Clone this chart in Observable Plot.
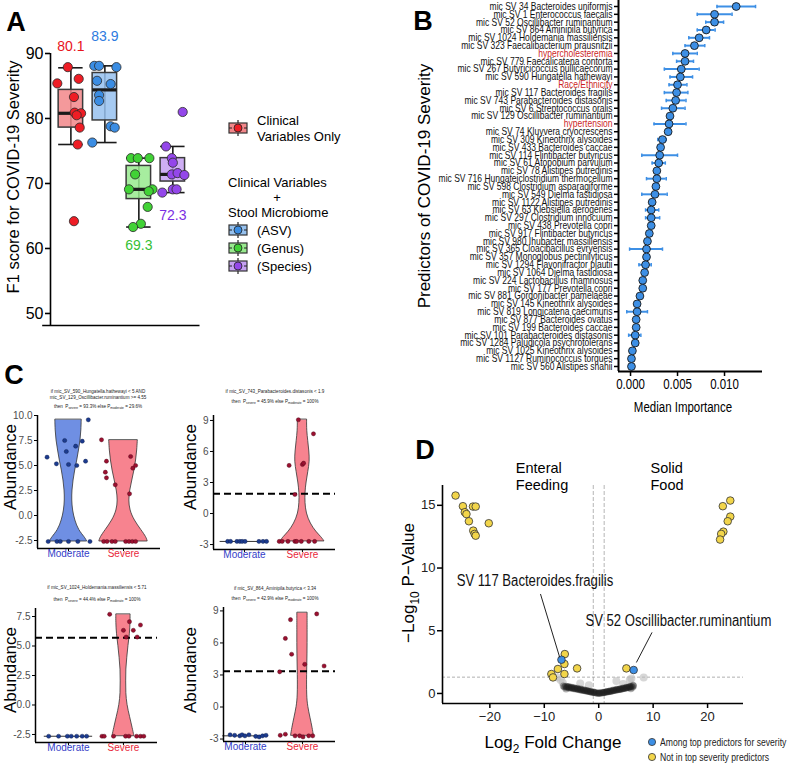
<!DOCTYPE html>
<html><head><meta charset="utf-8">
<script src="https://cdn.jsdelivr.net/npm/d3@7"></script>
<script src="https://cdn.jsdelivr.net/npm/@observablehq/plot@0.6"></script>
<style>
body{margin:0;background:#fff;}
#root{position:relative;width:796px;height:764px;overflow:hidden;background:#fff;font-family:'Liberation Sans',Arial,Helvetica,sans-serif;color:#000;}
.t{position:absolute;white-space:nowrap;line-height:1;}
.sb{font-size:70%;vertical-align:-0.35em;}
</style></head><body><div id="root"></div>
<script>
// ---------------- DATA ----------------
// Panel A: F1 scores
const groupNames = ["Clinical Variables Only", "ASV", "Genus", "Species"];
const boxQ1 = [78.6, 79.7, 67.6, 70.3];
const boxMedian = [80.8, 84.4, 69.1, 71.4];
const boxQ3 = [84.4, 87.0, 72.7, 73.9];
const whiskerLo = [76.0, 76.3, 63.3, 68.6];
const whiskerHi = [87.8, 88.1, 73.9, 75.7];
const meanLabels = ["80.1", "83.9", "69.3", "72.3"];
const meanLabelY = [91.0, 92.6, 60.4, 65.1];
const clinicalF1 = [87.9, 85.4, 86.1, 83.3, 80.9, 80.8, 80.5, 78.6, 76.0, 64.2];
const clinicalJitter = [-0.09, -0.4, 0.23, 0.09, 0.11, 0.3, 0.17, 0.26, 0.2, 0.09];
const asvF1 = [88.1, 88.1, 87.9, 85.8, 85.3, 83.6, 82.7, 78.8, 78.6, 76.3];
const asvJitter = [-0.31, -0.17, 0.34, -0.23, 0.17, -0.17, -0.17, 0.17, 0.29, -0.37];
const genusF1 = [73.9, 73.9, 73.9, 71.4, 69.1, 69.1, 68.8, 66.4, 63.8, 63.3];
const genusJitter = [-0.23, -0.03, 0.31, -0.11, -0.29, 0.4, 0.29, 0.26, 0.06, -0.17];
const speciesF1 = [81.0, 75.7, 73.9, 73.2, 71.4, 71.6, 71.3, 69.1, 69.1, 68.6];
const speciesJitter = [0.29, -0.2, -0.03, 0.0, -0.03, 0.14, 0.34, 0.0, 0.11, -0.31];

// Panel B: predictors
const predictorLabels = ["mic SV 34 Bacteroides uniformis","mic SV 1 Enterococcus faecalis","mic SV 52 Oscillibacter ruminantium","mic SV 864 Aminipila butyrica","mic SV 1024 Holdemania massiliensis","mic SV 323 Faecalibacterium prausnitzii","hypercholesteremia","mic SV 779 Faecalicatena contorta","mic SV 267 Butyricicoccus pullicaecorum","mic SV 590 Hungatella hathewayi","Race/Ethnicity","mic SV 117 Bacteroides fragilis","mic SV 743 Parabacteroides distasonis","mic SV 6 Streptococcus oralis","mic SV 129 Oscillibacter ruminantium","hypertension","mic SV 74 Kluyvera cryocrescens","mic SV 309 Kineothrix alysoides","mic SV 433 Bacteroides caccae","mic SV 114 Flintibacter butyricus","mic SV 61 Atopobium parvulum","mic SV 78 Alistipes putredinis","mic SV 716 Hungateiclostridium thermocellum","mic SV 598 Clostridium asparagiforme","mic SV 549 Dielma fastidiosa","mic SV 1122 Alistipes putredinis","mic SV 63 Klebsiella aerogenes","mic SV 297 Clostridium innocuum","mic SV 438 Prevotella copri","mic SV 917 Flintibacter butyricus","mic SV 980 Ihubacter massiliensis","mic SV 365 Cloacibacillus evryensis","mic SV 357 Monoglobus pectinilyticus","mic SV 1294 Flavonifractor plautii","mic SV 1064 Dielma fastidiosa","mic SV 224 Lactobacillus rhamnosus","mic SV 177 Prevotella copri","mic SV 881 Gordonibacter pamelaeae","mic SV 145 Kineothrix alysoides","mic SV 819 Longicatena caecimuris","mic SV 877 Bacteroides ovatus","mic SV 199 Bacteroides caccae","mic SV 101 Parabacteroides distasonis","mic SV 1284 Paludicola psychrotolerans","mic SV 1025 Kineothrix alysoides","mic SV 1127 Ruminococcus torques","mic SV 560 Alistipes shahii"];
const clinicalPredictors = ["hypercholesteremia", "Race/Ethnicity", "hypertension"];
const medianImportance = [0.01124,0.00894,0.00894,0.00805,0.0073,0.0068,0.0058,0.0058,0.0054,0.0053,0.0050,0.0049,0.0048,0.0045,0.0042,0.0041,0.0040,0.0034,0.0032,0.0031,0.0030,0.0028,0.0028,0.0027,0.0026,0.0023,0.0022,0.0022,0.0022,0.0020,0.0018,0.0017,0.0017,0.0016,0.0015,0.0013,0.0013,0.0010,0.0007,0.0007,0.0006,0.0006,0.0005,0.0005,0.0002,0.0001,0.0001];
const importanceLo = [0.0092,0.0071,0.0080,0.0071,0.0062,0.0058,0.0045,0.0049,0.0036,0.0042,0.0041,0.0036,0.0038,0.0033,null,0.0025,null,0.0029,null,0.0012,0.0023,null,0.0017,null,0.0012,null,0.0016,0.0016,null,null,null,-0.0001,null,0.0009,null,null,null,null,null,-0.0004,null,null,-0.0002,null,null,null,null];
const importanceHi = [0.0133,0.0108,0.0099,0.0090,0.0084,0.0079,0.0071,0.0067,0.0073,0.0066,0.0060,0.0061,0.0059,0.0058,null,0.0059,null,0.0038,null,0.0050,0.0037,null,0.0038,null,0.0039,null,0.0030,0.0031,null,null,null,0.0034,null,0.0022,null,null,null,null,null,0.0018,null,null,0.0011,null,null,null,null];
const importanceTicks = [0, 0.005, 0.010];

// Panel C: violins (outline = abundance level, half width in category units)
const c1ModOutlineY = [9.55, 8.5, 7.5, 6.5, 5.5, 4.5, 3.5, 2.5, 1.5, 0.5, -0.5, -1.5, -2.2, -2.6];
const c1ModOutlineW = [0.24, 0.235, 0.22, 0.19, 0.16, 0.12, 0.09, 0.07, 0.065, 0.08, 0.12, 0.19, 0.30, 0.34];
const c1SevOutlineY = [7.5, 6.5, 5.5, 4.5, 3.5, 2.5, 1.5, 0.5, -0.5, -1.5, -2.2, -2.6];
const c1SevOutlineW = [0.26, 0.25, 0.23, 0.2, 0.16, 0.12, 0.1, 0.12, 0.2, 0.33, 0.42, 0.44];
const c1ModPtsX = [0.61,0.78,0.93,0.96,1.0,1.13,1.15,1.25,1.31,1.36,0.63,0.79,0.85,1.0,1.17,1.39];
const c1ModPtsY = [5.83,5.17,7.5,6.4,5.1,6.93,5.0,7.43,5.43,9.57,-2.6,-2.6,-2.6,-2.6,-2.6,-2.6];
const c1SevPtsX = [1.6,1.69,1.67,1.69,1.85,2.13,2.17,2.22,2.11,1.64,1.70,1.79,1.85,2.04,2.10,2.16,2.22];
const c1SevPtsY = [7.57,5.43,4.33,3.77,3.07,5.9,4.73,5.0,2.17,-2.6,-2.6,-2.6,-2.6,-2.6,-2.6,-2.6,-2.6];

const c2ModLine = {y: -2.7, w: 0.42};
const c2SevOutlineY = [9.05, 8, 7, 6, 5, 4, 3, 2, 1, 0, -1, -1.8, -2.3, -2.7];
const c2SevOutlineW = [0.08, 0.08, 0.1, 0.12, 0.13, 0.1, 0.07, 0.05, 0.05, 0.07, 0.14, 0.24, 0.33, 0.38];
const c2ModPtsX = [0.71,0.76,0.87,0.92,0.96,1.01,1.25,1.32,1.38];
const c2ModPtsY = [-2.7,-2.7,-2.7,-2.7,-2.7,-2.7,-2.7,-2.7,-2.7];
const c2SevPtsX = [1.77,1.93,2.0,2.02,2.19,1.87,1.6,1.65,1.75,1.87,1.9,1.98,2.11,2.21];
const c2SevPtsY = [4.65,9.07,4.74,4.87,7.71,1.84,-2.7,-2.7,-2.7,-2.7,-2.7,-2.7,-2.7,-2.7];

const c3ModLine = {y: -2.65, w: 0.44};
const c3SevOutlineY = [7.65, 7, 6, 5, 4, 3, 2, 1, 0, -1, -2, -2.65];
const c3SevOutlineW = [0.13, 0.13, 0.12, 0.09, 0.07, 0.05, 0.05, 0.05, 0.07, 0.12, 0.17, 0.2];
const c3ModPtsX = [0.64,0.82,0.98,1.05,1.15,1.25,1.33];
const c3ModPtsY = [-2.65,-2.65,-2.65,-2.65,-2.65,-2.65,-2.65];
const c3SevPtsX = [1.75,2.0,2.05,2.11,2.18,2.31,2.25,1.61,1.65,1.82,2.04,2.10,2.24,2.31,2.37];
const c3SevPtsY = [7.69,6.33,5.76,7.06,6.33,6.78,5.76,-2.65,-2.65,-2.65,-2.65,-2.65,-2.65,-2.65,-2.65];

const c4ModLine = {y: -2.7, w: 0.4};
const c4SevOutlineY = [8.8, 7, 5, 3, 1, 0, -1, -2, -2.7];
const c4SevOutlineW = [0.09, 0.09, 0.09, 0.08, 0.08, 0.1, 0.14, 0.18, 0.2];
const c4ModPtsX = [0.73,0.81,0.9,0.94,0.99,1.06,1.18,1.24,1.3,1.36];
const c4ModPtsY = [-2.6,-2.65,-2.7,-2.6,-2.7,-2.6,-2.75,-2.8,-2.7,-2.65];
const c4SevPtsX = [1.79,1.70,1.81,1.6,2.04,2.25,2.38,1.61,1.70,1.87,1.95,2.01,2.11,2.18];
const c4SevPtsY = [8.18,6.42,4.94,3.3,4.0,8.72,3.84,-2.65,-2.55,-2.7,-2.7,-2.8,-2.7,-2.7];

const cThresholds = [null, 1.9, 5.71, 3.34];
const cTitles = [
  ["if mic_SV_590_Hungatella.hathewayi &lt; 5 AND", "mic_SV_129_Oscillibacter.ruminantium &gt;= 4.55", "then &nbsp;P<span class='sb'>severe</span> = 93.3% else P<span class='sb'>moderate</span> = 29.6%"],
  ["if mic_SV_743_Parabacteroides.distasonis &lt; 1.9", "then &nbsp;P<span class='sb'>severe</span> = 45.9% else P<span class='sb'>moderate</span> = 100%"],
  ["if mic_SV_1024_Holdemania.massiliensis &lt; 5.71", "then &nbsp;P<span class='sb'>severe</span> = 44.4% else P<span class='sb'>moderate</span> = 100%"],
  ["if mic_SV_864_Aminipila.butyrica &lt; 3.34", "then &nbsp;P<span class='sb'>severe</span> = 42.9% else P<span class='sb'>moderate</span> = 100%"]
];

// Panel D: volcano
const yellowLog2FC = [-26.3,-24.95,-24.6,-24.3,-23.85,-23.1,-22.6,-23.05,-22.8,-22.6,-20.2,24.17,22.8,24.17,23.7,22.9,22.5,22.3,-6.23,-6.3,-7.5,-3.97,-6.3,-8.7,-8.4,5.08];
const yellowNegLogP = [15.78,14.93,14.45,14.3,13.73,14.9,14.9,12.98,12.72,12.58,13.57,15.38,14.93,14.1,13.73,12.9,12.72,12.27,3.14,2.35,1.95,2.0,1.55,1.55,1.28,2.0];
const blueLog2FC = [-6.85, 6.42];
const blueNegLogP = [2.69, 1.87];
const lightGreyLog2FC = [-7.6,-7.0,-3.4,-1.8,3.25,5.7,6.0,8.26,-6.6,4.5];
const lightGreyNegLogP = [1.28,1.07,0.8,0.65,1.0,1.07,1.2,1.28,0.85,0.75];
const darkGreyLog2FC = [-6.5,-6.3,-6.1,-5.9,-5.8,-5.6,-5.4,-5.2,-5.0,-4.8,-4.6,-4.4,-4.2,-4.0,-3.8,-3.6,-3.4,-3.2,-3.0,-2.8,-2.6,-2.4,-2.2,-2.0,-1.8,-1.6,-1.4,-1.2,-1.0,-0.8,-0.6,-0.4,-0.2,0.0,0.2,0.4,0.6,0.8,1.0,1.2,1.4,1.6,1.8,2.0,2.2,2.4,2.6,2.8,3.0,3.2,3.4,3.6,3.8,4.0,4.2,4.4,4.6,4.8,5.0,5.2,5.4,5.6,5.8,6.0,6.2,6.4,-5.5,-5.0,-4.5,-3.9,-3.3,-2.7,-2.1,-1.5,-0.9,0.1,0.9,1.5,2.1,2.7,3.3,3.9,4.5,5.1,5.7,6.3,-6.0,5.9];
const darkGreyNegLogP = [0.6,0.52,0.58,0.47,0.55,0.5,0.44,0.48,0.42,0.45,0.38,0.40,0.35,0.37,0.31,0.33,0.28,0.29,0.25,0.26,0.22,0.21,0.19,0.18,0.15,0.14,0.12,0.10,0.09,0.07,0.05,0.04,0.02,0.01,0.02,0.03,0.05,0.06,0.08,0.09,0.11,0.13,0.14,0.16,0.18,0.2,0.21,0.23,0.25,0.27,0.29,0.3,0.32,0.34,0.36,0.38,0.40,0.42,0.43,0.45,0.47,0.49,0.52,0.55,0.5,0.6,0.56,0.5,0.46,0.42,0.35,0.3,0.24,0.18,0.12,0.05,0.1,0.16,0.22,0.27,0.33,0.38,0.44,0.5,0.57,0.65,0.35,0.38];
const annotLabels = ["SV 117 Bacteroides.fragilis", "SV 52 Oscillibacter.ruminantium"];
const annotX = [-26.1, -2.45];
const annotY = [9.0, 5.8];
const leaderFromX = [-10.7, 9.8], leaderFromY = [7.93, 4.87];
const leaderToX = [-7.16, 6.92], leaderToY = [2.87, 2.47];
const pThreshold = 1.301;
const fcThresholds = [-1, 1];

// ---------------- HELPERS ----------------
const root = document.getElementById("root");
const SANS = "'Liberation Sans', Arial, Helvetica, sans-serif";
const SQ = 0.82; // narrow (condensed) look
const baseStyle = {background: "transparent", overflow: "visible", fontFamily: SANS, fontSize: "10px", color: "#000"};
function place(el, left, top) {
  el.style.position = "absolute"; el.style.left = left + "px"; el.style.top = top + "px";
  root.append(el);
}
function squeezeTexts(svg, selector, factor) {
  svg.querySelectorAll(selector).forEach(t => {
    const w = t.getComputedTextLength();
    if (w > 0) { t.setAttribute("textLength", (w * factor).toFixed(2)); t.setAttribute("lengthAdjust", "spacingAndGlyphs"); }
  });
}
function addText(html, x, y, o = {}) {
  const d = document.createElement("div");
  d.className = "t";
  const origin = o.anchor === "start" ? "0 50%" : o.anchor === "end" ? "100% 50%" : "50% 50%";
  d.innerHTML = o.squeeze ? `<span style="display:inline-block;transform:scaleX(${o.squeeze});transform-origin:${origin}">${html}</span>` : html;
  d.style.left = x + "px"; d.style.top = y + "px";
  d.style.fontSize = (o.size || 12) + "px";
  if (o.color) d.style.color = o.color;
  if (o.weight) d.style.fontWeight = o.weight;
  if (o.lh) d.style.lineHeight = o.lh + "px";
  if (o.align) d.style.textAlign = o.align;
  const ax = o.anchor === "start" ? "0" : o.anchor === "end" ? "-100%" : "-50%";
  d.style.transform = `translate(${ax},-50%)` + (o.rotate ? ` rotate(${o.rotate}deg)` : "");
  root.append(d);
  return d;
}
function iconSvg(box, dot) {
  return `<svg width="20" height="16" viewBox="0 0 20 16" style="display:block"><line x1="10" y1="0" x2="10" y2="16" stroke="#222" stroke-width="1.2"/><rect x="1" y="3" width="18" height="10" fill="${box}" stroke="#333" stroke-width="1.2"/><line x1="1" y1="8" x2="19" y2="8" stroke="#222" stroke-width="1.2" stroke-dasharray="3,2"/><circle cx="10" cy="8" r="4" fill="${dot}" stroke="#222" stroke-width="0.8"/></svg>`;
}

// ---------------- PANEL A ----------------
const aStyle = [
  {dot: "#ee1d25", box: "#f2878a", lab: "#e8141b"},
  {dot: "#3b8de3", box: "#96c1ee", lab: "#2d7be0"},
  {dot: "#41d236", box: "#98ea8e", lab: "#35bf35"},
  {dot: "#9447ea", box: "#c5a0f2", lab: "#7b2ee3"}
];
const aValues = [clinicalF1, asvF1, genusF1, speciesF1];
const aJitter = [clinicalJitter, asvJitter, genusJitter, speciesJitter];
const boxTable = groupNames.map((name, i) => ({name, x: i + 1, q1: boxQ1[i], med: boxMedian[i], q3: boxQ3[i], lo: whiskerLo[i], hi: whiskerHi[i], label: meanLabels[i], ly: meanLabelY[i]}));
const HW = 0.36;
const aMarks = [Plot.ruleX(boxTable, {x: "x", y1: "lo", y2: "hi", stroke: "#1a1a1a", strokeWidth: 1.6})];
boxTable.forEach((b, i) => {
  aMarks.push(Plot.rect([b], {x1: d => d.x - HW, x2: d => d.x + HW, y1: "q1", y2: "q3", fill: aStyle[i].box, fillOpacity: 0.85, stroke: "#3a3a3a", strokeWidth: 1.5}));
});
aMarks.push(
  Plot.ruleY(boxTable, {y: "lo", x1: d => d.x - HW, x2: d => d.x + HW, stroke: "#1a1a1a", strokeWidth: 1.6}),
  Plot.ruleY(boxTable, {y: "hi", x1: d => d.x - HW, x2: d => d.x + HW, stroke: "#1a1a1a", strokeWidth: 1.6}),
  Plot.ruleY(boxTable, {y: "med", x1: d => d.x - HW, x2: d => d.x + HW, stroke: "#1a1a1a", strokeWidth: 3.2})
);
aValues.forEach((vals, i) => {
  const pts = vals.map((v, k) => ({x: i + 1 + aJitter[i][k], y: v}));
  aMarks.push(Plot.dot(pts, {x: "x", y: "y", r: 4.6, fill: aStyle[i].dot, stroke: "#2a2a2a", strokeWidth: 0.8}));
  aMarks.push(Plot.text([boxTable[i]], {x: "x", y: "ly", text: "label", fill: aStyle[i].lab, fontSize: 14}));
});
aMarks.push(
  Plot.ruleX([0.4], {y1: 48.15, y2: 90, stroke: "#000", strokeWidth: 1.6}),
  Plot.ruleY([48.15], {x1: 0.17, x2: 4.8, stroke: "#000", strokeWidth: 1.6}),
  Plot.axisY({ticks: [50, 60, 70, 80, 90], tickSize: 5, tickPadding: 2, fontSize: 16, strokeWidth: 1.6, label: null})
);
const plotA = Plot.plot({
  width: 200, height: 340, marginLeft: 50, marginRight: 10, marginTop: 53, marginBottom: 15,
  style: baseStyle,
  x: {domain: [0.4, 4.52], axis: null, label: null},
  y: {domain: [48.15, 90], label: null},
  marks: aMarks
});
place(plotA, 0, 0);
addText("F1 score for COVID-19 Severity", 13, 177, {size: 16.5, rotate: -90});
addText("A", 16, 22, {size: 27, weight: "bold"});
const iconA = document.createElement("div"); iconA.innerHTML = iconSvg(aStyle[0].box, aStyle[0].dot); place(iconA, 228, 120);
addText("Clinical", 257, 120, {size: 13, anchor: "start"});
addText("Variables Only", 257, 136, {size: 13, anchor: "start"});
addText("Clinical Variables", 228, 182, {size: 13, anchor: "start"});
addText("+", 277, 197, {size: 13});
addText("Stool Microbiome", 228, 212, {size: 13, anchor: "start"});
["(ASV)", "(Genus)", "(Species)"].forEach((t, k) => {
  const ic = document.createElement("div"); ic.innerHTML = iconSvg(aStyle[k + 1].box, aStyle[k + 1].dot); place(ic, 228, 222 + 18 * k);
  addText(t, 257, 230 + 18 * k, {size: 13, anchor: "start"});
});

// ---------------- PANEL B ----------------
const bRows = predictorLabels.map((label, i) => ({i, label, v: medianImportance[i], lo: importanceLo[i], hi: importanceHi[i], red: clinicalPredictors.includes(label)}));
const bErr = bRows.filter(d => d.lo != null);
const XMIN = -0.00128, YMAX = 46.64;
const plotB = Plot.plot({
  width: 396, height: 420, marginLeft: 218, marginRight: 34, marginTop: 0, marginBottom: 49,
  style: baseStyle,
  x: {domain: [XMIN, 0.01404], label: null},
  y: {domain: [-0.767, YMAX], range: [0, 371], label: null},
  marks: [
    Plot.ruleY(bErr, {y: "i", x1: "lo", x2: "hi", stroke: "#3d8fe5", strokeWidth: 2}),
    Plot.link(bErr, {x1: "lo", x2: "lo", y1: d => d.i - 0.22, y2: d => d.i + 0.22, stroke: "#3d8fe5", strokeWidth: 1.5}),
    Plot.link(bErr, {x1: "hi", x2: "hi", y1: d => d.i - 0.22, y2: d => d.i + 0.22, stroke: "#3d8fe5", strokeWidth: 1.5}),
    Plot.dot(bRows, {x: "v", y: "i", r: 3.9, fill: "#3d8fe5", stroke: "#1a1a1a", strokeWidth: 0.9}),
    Plot.ruleX([XMIN], {stroke: "#000", strokeWidth: 2}),
    Plot.ruleY([YMAX], {stroke: "#000", strokeWidth: 2}),
    Plot.axisY({ticks: d3.range(predictorLabels.length), tickFormat: () => "", tickSize: 4, strokeWidth: 1.5, label: null}),
    Plot.text(bRows.filter(d => !d.red), {x: XMIN, y: "i", text: "label", textAnchor: "end", dx: -6, fontSize: 10.5, fill: "#111"}),
    Plot.text(bRows.filter(d => d.red), {x: XMIN, y: "i", text: "label", textAnchor: "end", dx: -6, fontSize: 10.5, fill: "#cc1f1f"}),
    Plot.axisX({ticks: importanceTicks, tickFormat: d3.format(".3f"), tickSize: 5, tickPadding: 3, fontSize: 14, strokeWidth: 1.5, label: null})
  ]
});
place(plotB, 400, 0);
squeezeTexts(plotB, 'g[aria-label="text"] text', 0.81);
squeezeTexts(plotB, 'g[aria-label="x-axis tick label"] text', SQ);
addText("Median Importance", 683, 407, {size: 14, squeeze: SQ});
addText("Predictors of COVID-19 Severity", 424, 186, {size: 17, rotate: -90});
addText("B", 423, 21, {size: 27, weight: "bold"});

// ---------------- PANEL C ----------------
const zip = (xs, ys) => xs.map((x, k) => ({x, y: ys[k]}));
const outline = (ys, ws) => ys.map((y, k) => ({y, w: ws[k]}));
const cConfigs = [
  {left: 0, top: 380, width: 170, height: 185, mL: 37, mR: 10, mT: 35, mB: 17, xd: [0.436, 2.673], yd: [-3.3, 10.0], ticks: [-2.5, 0, 2.5, 5, 7.5, 10], fmt: d => d.toFixed(1),
   mod: outline(c1ModOutlineY, c1ModOutlineW), modLine: null, sev: outline(c1SevOutlineY, c1SevOutlineW), modPts: zip(c1ModPtsX, c1ModPtsY), sevPts: zip(c1SevPtsX, c1SevPtsY)},
  {left: 176, top: 380, width: 170, height: 185, mL: 37, mR: 11, mT: 35, mB: 16, xd: [0.466, 2.57], yd: [-3.48, 9.48], ticks: [-3, 0, 3, 6, 9], fmt: d => String(d),
   mod: null, modLine: c2ModLine, sev: outline(c2SevOutlineY, c2SevOutlineW), modPts: zip(c2ModPtsX, c2ModPtsY), sevPts: zip(c2SevPtsX, c2SevPtsY)},
  {left: 0, top: 573, width: 170, height: 190, mL: 35, mR: 13, mT: 35, mB: 21, xd: [0.4, 2.62], yd: [-3.18, 8.18], ticks: [-2.5, 0, 2.5, 5, 7.5], fmt: d => d.toFixed(1),
   mod: null, modLine: c3ModLine, sev: outline(c3SevOutlineY, c3SevOutlineW), modPts: zip(c3ModPtsX, c3ModPtsY), sevPts: zip(c3SevPtsX, c3SevPtsY)},
  {left: 186, top: 573, width: 170, height: 190, mL: 37, mR: 21, mT: 34, mB: 22, xd: [0.614, 2.58], yd: [-3.23, 9.32], ticks: [-3, 0, 3, 6, 9], fmt: d => String(d),
   mod: null, modLine: c4ModLine, sev: outline(c4SevOutlineY, c4SevOutlineW), modPts: zip(c4ModPtsX, c4ModPtsY), sevPts: zip(c4SevPtsX, c4SevPtsY)}
];
cConfigs.forEach((c, k) => {
  const marks = [];
  if (c.mod) marks.push(Plot.areaX(c.mod, {y: "y", x1: d => 1 - d.w, x2: d => 1 + d.w, fill: "#6f8fe3", stroke: "#333", strokeWidth: 0.8, curve: "basis"}));
  if (c.modLine) marks.push(Plot.ruleY([c.modLine], {y: "y", x1: d => 1 - d.w, x2: d => 1 + d.w, stroke: "#333", strokeWidth: 1}));
  marks.push(Plot.areaX(c.sev, {y: "y", x1: d => 2 - d.w, x2: d => 2 + d.w, fill: "#f7838f", stroke: "#333", strokeWidth: 0.8, curve: "basis"}));
  if (cThresholds[k] != null) marks.push(Plot.ruleY([cThresholds[k]], {stroke: "#000", strokeWidth: 2, strokeDasharray: "7,4"}));
  marks.push(
    Plot.dot(c.modPts, {x: "x", y: "y", r: 2.1, fill: "#1c3b8f", stroke: "#0b1a44", strokeWidth: 0.4}),
    Plot.dot(c.sevPts, {x: "x", y: "y", r: 2.1, fill: "#9a1030", stroke: "#4a0515", strokeWidth: 0.4}),
    Plot.ruleX([c.xd[0]], {stroke: "#000", strokeWidth: 1.5}),
    Plot.ruleY([c.yd[0]], {stroke: "#000", strokeWidth: 1.5}),
    Plot.axisY({ticks: c.ticks, tickFormat: c.fmt, tickSize: 3, tickPadding: 2, fontSize: 10, fill: "#4d4d4d", strokeWidth: 1, label: null}),
    Plot.axisX({ticks: [1, 2], tickFormat: () => "", tickSize: 3, strokeWidth: 1, label: null}),
    Plot.text([{x: 1, t: "Moderate"}], {x: "x", text: "t", frameAnchor: "bottom", dy: 8, fontSize: 10, fill: "#3340c8"}),
    Plot.text([{x: 2, t: "Severe"}], {x: "x", text: "t", frameAnchor: "bottom", dy: 8, fontSize: 10, fill: "#e8283a"})
  );
  const p = Plot.plot({
    width: c.width, height: c.height, marginLeft: c.mL, marginRight: c.mR, marginTop: c.mT, marginBottom: c.mB,
    style: baseStyle, x: {domain: c.xd, axis: null, label: null}, y: {domain: c.yd, label: null}, marks
  });
  place(p, c.left, c.top);
});
[[98, [392, 398, 407]], [275, [392, 402]], [97, [588, 600]], [275, [589, 599]]].forEach(([cx, ys], k) => {
  cTitles[k].forEach((line, j) => addText(line, cx, ys[j], {size: 5.6, squeeze: SQ, color: "#222"}));
});
addText("Abundance", 10, 467, {size: 17, rotate: -90});
addText("Abundance", 190, 467, {size: 17, rotate: -90});
addText("Abundance", 10, 670, {size: 17, rotate: -90});
addText("Abundance", 190, 670, {size: 17, rotate: -90});
addText("C", 14, 375, {size: 27, weight: "bold"});

// ---------------- PANEL D ----------------
const annot = annotLabels.map((t, k) => ({t, x: annotX[k], y: annotY[k], x1: leaderFromX[k], y1: leaderFromY[k], x2: leaderToX[k], y2: leaderToY[k]}));
const DXMIN = -28.7, DYMIN = -0.8;
const plotD = Plot.plot({
  width: 396, height: 324, marginLeft: 42, marginRight: 53, marginTop: 45, marginBottom: 61,
  style: baseStyle,
  x: {domain: [DXMIN, 26.6], label: null},
  y: {domain: [DYMIN, 16.58], label: null},
  marks: [
    Plot.ruleX(fcThresholds, {stroke: "#b5b5b5", strokeWidth: 1, strokeDasharray: "4,2"}),
    Plot.ruleY([pThreshold], {stroke: "#9a9a9a", strokeWidth: 0.8, strokeDasharray: "3,2"}),
    Plot.dot(zip(lightGreyLog2FC, lightGreyNegLogP), {x: "x", y: "y", r: 4, fill: "#bdbdbd", fillOpacity: 0.6}),
    Plot.dot(zip(darkGreyLog2FC, darkGreyNegLogP), {x: "x", y: "y", r: 3.5, fill: "#1e1e1e", fillOpacity: 0.35}),
    Plot.dot(zip(yellowLog2FC, yellowNegLogP), {x: "x", y: "y", r: 3.8, fill: "#f2d54a", stroke: "#333", strokeWidth: 0.8}),
    Plot.dot(zip(blueLog2FC, blueNegLogP), {x: "x", y: "y", r: 3.8, fill: "#3d8fe5", stroke: "#333", strokeWidth: 0.8}),
    Plot.link(annot, {x1: "x1", y1: "y1", x2: "x2", y2: "y2", stroke: "#222", strokeWidth: 1}),
    Plot.text(annot, {x: "x", y: "y", text: "t", textAnchor: "start", fontSize: 16, fill: "#111"}),
    Plot.ruleX([DXMIN], {stroke: "#000", strokeWidth: 1.6}),
    Plot.ruleY([DYMIN], {stroke: "#000", strokeWidth: 1.6}),
    Plot.axisX({ticks: [-20, -10, 0, 10, 20], tickSize: 5, tickPadding: 3, fontSize: 13, strokeWidth: 1.5, fill: "#222", label: null}),
    Plot.axisY({ticks: [0, 5, 10, 15], tickSize: 5, tickPadding: 2, fontSize: 13, strokeWidth: 1.5, fill: "#222", label: null})
  ]
});
place(plotD, 400, 440);
squeezeTexts(plotD, 'g[aria-label="text"] text', SQ);
addText("D", 425, 450, {size: 27, weight: "bold"});
addText("Enteral<br>Feeding", 542, 477, {size: 14.5, lh: 17});
addText("Solid<br>Food", 667, 477, {size: 14.5, lh: 17});
addText("\u2212Log<span class='sb'>10</span> P\u2212Value", 411, 583, {size: 17, rotate: -90});
addText("Log<span class='sb'>2</span> Fold Change", 553, 745, {size: 17});
const dl1 = document.createElement("div"); dl1.innerHTML = `<svg width="10" height="10" style="display:block"><circle cx="5" cy="5" r="3.6" fill="#3d8fe5" stroke="#333" stroke-width="0.8"/></svg>`; place(dl1, 647, 737);
addText("Among top predictors for severity", 660, 742, {size: 10.5, squeeze: SQ, anchor: "start", color: "#222"});
const dl2 = document.createElement("div"); dl2.innerHTML = `<svg width="10" height="10" style="display:block"><circle cx="5" cy="5" r="3.6" fill="#f2d54a" stroke="#333" stroke-width="0.8"/></svg>`; place(dl2, 647, 752);
addText("Not in top severity predictors", 660, 757, {size: 10.5, squeeze: SQ, anchor: "start", color: "#222"});
</script></body></html>
